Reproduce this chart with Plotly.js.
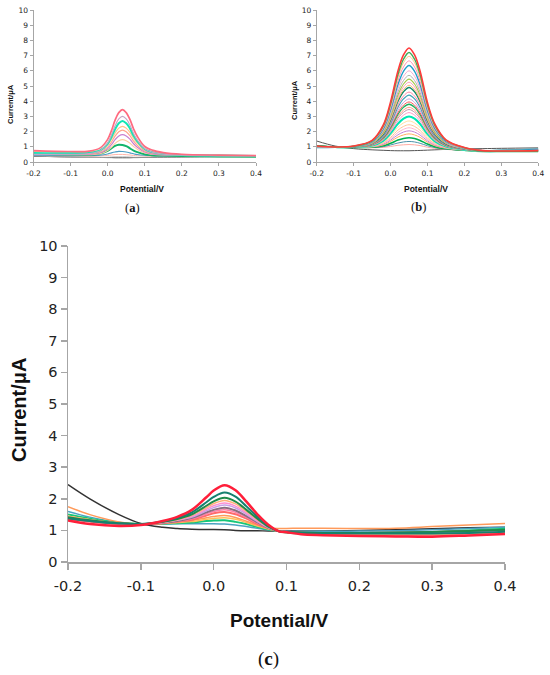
<!DOCTYPE html>
<html><head><meta charset="utf-8">
<script src="https://cdn.plot.ly/plotly-3.0.1.min.js"></script>
<style>html,body{margin:0;padding:0;background:#fff}#chart{width:550px;height:675px}</style>
</head><body><div id="chart"></div>
<script>
// ---------- tick labels ----------
const xTickVals = [-0.2, -0.1, 0.0, 0.1, 0.2, 0.3, 0.4];
const xTickText = ["-0.2", "-0.1", "0.0", "0.1", "0.2", "0.3", "0.4"];
const yTickVals = [0, 1, 2, 3, 4, 5, 6, 7, 8, 9, 10];

// ---------- panel (a) ----------
const xA = [-0.2, -0.1, -0.05, -0.02, 0, 0.01, 0.02, 0.03, 0.04, 0.05, 0.06, 0.07, 0.08, 0.1, 0.12, 0.15, 0.2, 0.3, 0.4];
const a1 = [.75, .69, .72, .93, 1.49, 2.05, 2.75, 3.25, 3.45, 3.25, 2.80, 2.17, 1.68, 1.02, .78, .62, .51, .45, .42];
const a2 = [.5, .51, .55, .75, 1.25, 1.75, 2.38, 2.83, 3.0, 2.83, 2.43, 1.87, 1.44, .86, .65, .52, .45, .42, .4];
const a3 = [.6, .58, .6, .77, 1.2, 1.63, 2.16, 2.55, 2.7, 2.55, 2.21, 1.72, 1.36, .84, .65, .53, .46, .42, .4];
const a4 = [.7, .65, .66, .78, 1.13, 1.48, 1.91, 2.23, 2.35, 2.23, 1.95, 1.55, 1.25, .82, .66, .55, .48, .43, .4];
const a5 = [.55, .53, .54, .66, .98, 1.3, 1.7, 1.99, 2.1, 1.99, 1.73, 1.37, 1.1, .72, .58, .5, .45, .42, .4];
const a6 = [.5, .5, .51, .61, .88, 1.14, 1.47, 1.71, 1.8, 1.71, 1.5, 1.2, .97, .66, .54, .47, .44, .41, .4];
const a7 = [.5, .48, .48, .55, .76, .96, 1.22, 1.4, 1.47, 1.4, 1.24, 1.01, .84, .59, .51, .46, .43, .41, .4];
const a8 = [.55, .5, .48, .55, .74, .9, 1.06, 1.14, 1.12, 1.04, .9, .75, .65, .51, .45, .42, .39, .37, .35];
const a9 = [.45, .42, .42, .45, .53, .6, .66, .7, .69, .66, .6, .54, .49, .44, .42, .4, .39, .38, .38];
const a10 = [.45, .4, .38, .4, .43, .46, .49, .5, .5, .48, .46, .43, .42, .4, .39, .38, .38, .38, .38];
const a11 = [.4, .32, .3, .3, .31, .32, .33, .33, .33, .33, .32, .31, .31, .31, .32, .33, .35, .37, .38];
const a12 = [.38, .33, .31, .3, .29, .29, .28, .28, .28, .28, .28, .29, .29, .3, .31, .32, .33, .35, .36];

// ---------- panel (b) ----------
const xB = [-0.2, -0.15, -0.1, -0.05, -0.02, 0, 0.02, 0.035, 0.05, 0.065, 0.08, 0.1, 0.12, 0.15, 0.2, 0.25, 0.3, 0.4];
const b1 = [1.05, .99, 1.05, 1.42, 2.42, 3.95, 5.99, 7.04, 7.5, 7.04, 5.97, 3.90, 2.49, 1.46, .95, .75, .72, .75];
const b2 = [1.08, 1.0, 1.04, 1.39, 2.35, 3.81, 5.76, 6.76, 7.2, 6.76, 5.74, 3.76, 2.41, 1.43, .94, .72, .7, .7];
const b3 = [1.0, .99, 1.04, 1.38, 2.30, 3.69, 5.56, 6.53, 6.95, 6.53, 5.54, 3.64, 2.35, 1.41, .93, .75, .72, .76];
const b4 = [1.0, .99, 1.04, 1.35, 2.23, 3.55, 5.33, 6.25, 6.65, 6.25, 5.31, 3.50, 2.27, 1.38, .92, .75, .72, .78];
const b5 = [.95, .97, 1.03, 1.33, 2.16, 3.42, 5.10, 5.97, 6.35, 5.97, 5.08, 3.37, 2.20, 1.35, .91, .74, .74, .82];
const b6 = [1.0, .99, 1.03, 1.30, 2.08, 3.26, 4.83, 5.64, 6.0, 5.64, 4.81, 3.21, 2.11, 1.31, .90, .74, .72, .76];
const b7 = [1.02, .98, 1.02, 1.28, 2.01, 3.12, 4.60, 5.36, 5.7, 5.36, 4.58, 3.07, 2.04, 1.28, .89, .76, .76, .85];
const b8 = [1.0, .98, 1.02, 1.26, 1.95, 3.00, 4.41, 5.13, 5.45, 5.13, 4.39, 2.95, 1.97, 1.26, .89, .74, .72, .74];
const b9 = [.98, .98, 1.02, 1.25, 1.91, 2.91, 4.25, 4.94, 5.25, 4.94, 4.23, 2.86, 1.92, 1.24, .88, .73, .72, .76];
const b10 = [1.0, .98, 1.01, 1.23, 1.86, 2.82, 4.10, 4.76, 5.05, 4.76, 4.08, 2.77, 1.87, 1.22, .88, .73, .72, .78];
const b11 = [1.05, .99, 1.01, 1.22, 1.82, 2.75, 3.99, 4.62, 4.9, 4.62, 3.97, 2.70, 1.84, 1.20, .87, .72, .7, .72];
const b12 = [1.0, .98, 1.01, 1.20, 1.76, 2.61, 3.75, 4.34, 4.6, 4.34, 3.73, 2.56, 1.76, 1.17, .86, .73, .72, .76];
const b13 = [.96, .97, 1.0, 1.18, 1.71, 2.52, 3.60, 4.15, 4.4, 4.15, 3.58, 2.47, 1.71, 1.15, .86, .75, .78, .85];
const b14 = [1.0, .98, 1.0, 1.17, 1.65, 2.40, 3.41, 3.92, 4.15, 3.92, 3.39, 2.35, 1.65, 1.13, .85, .73, .72, .76];
const b15 = [1.02, .98, 1.0, 1.15, 1.61, 2.31, 3.25, 3.74, 3.95, 3.74, 3.23, 2.26, 1.60, 1.11, .84, .72, .72, .76];
const b16 = [1.05, .99, 1.0, 1.14, 1.57, 2.24, 3.14, 3.60, 3.8, 3.60, 3.12, 2.19, 1.56, 1.09, .84, .71, .7, .7];
const b17 = [1.0, .98, .99, 1.12, 1.53, 2.15, 2.98, 3.41, 3.6, 3.41, 2.96, 2.10, 1.51, 1.07, .83, .72, .72, .76];
const b18 = [.98, .97, .99, 1.11, 1.49, 2.08, 2.87, 3.27, 3.45, 3.27, 2.85, 2.03, 1.47, 1.06, .83, .73, .74, .8];
const b19 = [1.0, .98, .99, 1.10, 1.45, 1.99, 2.71, 3.08, 3.25, 3.08, 2.69, 1.94, 1.42, 1.04, .82, .72, .72, .76];
const b20 = [1.02, .98, .98, 1.08, 1.39, 1.88, 2.52, 2.85, 3.0, 2.85, 2.50, 1.83, 1.36, 1.01, .81, .72, .72, .76];
const b21 = [1.0, .98, .98, 1.06, 1.32, 1.74, 2.29, 2.57, 2.7, 2.57, 2.27, 1.69, 1.29, .98, .80, .71, .72, .76];
const b22 = [1.0, .97, .97, 1.04, 1.26, 1.62, 2.10, 2.34, 2.45, 2.34, 2.08, 1.57, 1.22, .96, .80, .71, .72, .76];
const b23 = [1.0, .97, .97, 1.02, 1.22, 1.53, 1.94, 2.15, 2.25, 2.15, 1.92, 1.48, 1.17, .94, .79, .71, .72, .76];
const b24 = [.98, .97, .97, 1.01, 1.17, 1.44, 1.79, 1.97, 2.05, 1.97, 1.77, 1.39, 1.12, .92, .79, .71, .72, .78];
const b25 = [1.0, .97, .96, .99, 1.12, 1.35, 1.64, 1.78, 1.85, 1.78, 1.62, 1.30, 1.07, .90, .78, .71, .72, .76];
const b26 = [1.03, .98, .96, .97, 1.07, 1.23, 1.44, 1.55, 1.6, 1.55, 1.42, 1.18, 1.01, .87, .77, .7, .7, .7];
const b27 = [.98, .97, .96, .96, 1.01, 1.12, 1.25, 1.32, 1.35, 1.32, 1.23, 1.07, .95, .85, .77, .74, .78, .85];
const b28 = [1.0, .97, .95, .94, .96, 1.02, 1.10, 1.13, 1.15, 1.13, 1.08, .97, .90, .83, .76, .70, .72, .76];
const b29 = [1.38, 1.05, .88, .8, .77, .75, .74, .74, .74, .75, .76, .78, .8, .83, .86, .88, .9, .93];

// ---------- panel (c) ----------
const xC = [-0.2, -0.17, -0.13, -0.1, -0.07, -0.05, -0.03, -0.01, 0, 0.015, 0.03, 0.045, 0.06, 0.075, 0.09, 0.1, 0.12, 0.15, 0.2, 0.25, 0.3, 0.35, 0.4];
const c1 = [1.31, 1.2, 1.14, 1.17, 1.3, 1.43, 1.65, 2.05, 2.26, 2.43, 2.27, 1.91, 1.51, 1.18, .97, .94, .88, .85, .82, .81, .8, .84, .89];
const c2 = [1.38, 1.3, 1.22, 1.2, 1.28, 1.39, 1.57, 1.89, 2.06, 2.2, 2.07, 1.76, 1.43, 1.15, .97, .95, .92, .9, .9, .9, .9, .92, .96];
const c3 = [1.42, 1.32, 1.23, 1.2, 1.27, 1.36, 1.51, 1.78, 1.92, 2.03, 1.91, 1.65, 1.37, 1.12, .97, .95, .93, .92, .92, .93, .95, .98, 1.02];
const c4 = [1.45, 1.34, 1.23, 1.2, 1.26, 1.34, 1.48, 1.72, 1.85, 1.95, 1.84, 1.6, 1.34, 1.11, .97, .95, .9, .87, .86, .86, .87, .9, .95];
const c5 = [1.4, 1.31, 1.22, 1.2, 1.26, 1.33, 1.45, 1.67, 1.78, 1.87, 1.77, 1.55, 1.31, 1.1, .97, .95, .9, .88, .88, .88, .89, .9, .93];
const c6 = [1.4, 1.31, 1.22, 1.2, 1.25, 1.32, 1.42, 1.62, 1.72, 1.8, 1.71, 1.51, 1.28, 1.09, .97, .95, .92, .9, .9, .9, .91, .93, .96];
const c7 = [1.38, 1.3, 1.22, 1.2, 1.25, 1.3, 1.4, 1.57, 1.65, 1.72, 1.63, 1.45, 1.26, 1.08, .97, .96, .93, .92, .92, .93, .95, .98, 1.0];
const c8 = [1.42, 1.32, 1.23, 1.2, 1.24, 1.29, 1.37, 1.52, 1.6, 1.65, 1.57, 1.41, 1.23, 1.08, .97, .95, .9, .87, .86, .86, .87, .9, .95];
const c9 = [1.35, 1.28, 1.21, 1.2, 1.23, 1.28, 1.34, 1.47, 1.54, 1.58, 1.51, 1.37, 1.2, 1.07, .97, .95, .9, .87, .85, .85, .86, .9, .95];
const c10 = [1.75, 1.5, 1.27, 1.2, 1.23, 1.26, 1.31, 1.4, 1.44, 1.47, 1.41, 1.29, 1.17, 1.08, 1.06, 1.06, 1.07, 1.07, 1.06, 1.07, 1.12, 1.17, 1.22];
const c11 = [1.45, 1.34, 1.23, 1.2, 1.22, 1.25, 1.28, 1.35, 1.38, 1.4, 1.35, 1.25, 1.14, 1.04, .97, .96, .93, .9, .88, .88, .9, .93, .97];
const c12 = [1.5, 1.37, 1.24, 1.2, 1.21, 1.23, 1.25, 1.3, 1.31, 1.32, 1.27, 1.2, 1.11, 1.03, .97, .93, .9, .88, .88, .9, .94, 1.0, 1.05];
const c13 = [1.6, 1.42, 1.25, 1.2, 1.2, 1.21, 1.21, 1.21, 1.21, 1.2, 1.17, 1.12, 1.07, 1.02, .98, .97, .97, .97, .98, .99, 1.02, 1.06, 1.1];
const c14 = [2.45, 2.0, 1.5, 1.22, 1.1, 1.06, 1.04, 1.03, 1.03, 1.02, 1.0, .99, .99, .98, .98, .98, .98, .98, 1.0, 1.03, 1.05, 1.08, 1.1];

// ---------- styles (drawn bottom to top) ----------
const styleA = [
  [a12, '#3a3a3a', 1], [a11, '#a8a8a8', 1], [a10, '#ffb4a8', 1], [a9, '#4a9cc4', 1.1],
  [a8, '#12b56a', 2], [a7, '#ffcaa0', 1.1], [a6, '#c97fd0', 1.2], [a5, '#ffa38a', 1.1],
  [a4, '#ffc48a', 1.2], [a3, '#12e6b4', 2], [a2, '#c3a6c6', 1.1], [a1, '#ff6b80', 1.7]
];
const styleB = [
  [b29, '#555555', 1], [b28, '#ffaca4', 1], [b27, '#4a92a8', 1], [b26, '#00b050', 1.6],
  [b25, '#ffb060', 1], [b24, '#c484d4', 1], [b23, '#ffb4cc', 1], [b22, '#ffc494', 1],
  [b21, '#ffe0a0', 1], [b20, '#00e6b4', 2], [b19, '#ff98c8', 1], [b18, '#c090a6', 1],
  [b17, '#ffa07e', 1], [b16, '#22b062', 1.3], [b15, '#ff5656', 1], [b14, '#c8a2dc', 1],
  [b13, '#3ea4b8', 1.2], [b12, '#ff86a4', 1], [b11, '#128a6c', 1.4], [b10, '#ffb46e', 1],
  [b9, '#ff9fb8', 1], [b8, '#a3c844', 1.1], [b7, '#b3b3b3', 1], [b6, '#f5a8d0', 1],
  [b5, '#1f9fc8', 1.4], [b4, '#ff8fb0', 1], [b3, '#ffc27a', 1], [b2, '#3cae5a', 1.4],
  [b1, '#ff3b3b', 1.6]
];
const styleC = [
  [c14, '#333333', 1.5], [c13, '#4aa3c2', 1.5], [c12, '#17c77a', 2], [c11, '#ffc05a', 1.5],
  [c10, '#ff9a5a', 1.5], [c9, '#ff6a6a', 2], [c8, '#ff7fa8', 1.5], [c7, '#8c6d80', 2],
  [c6, '#c9a0e8', 1.5], [c5, '#ff8fd0', 1.5], [c4, '#ffb07a', 1.5], [c3, '#1f8a4a', 2],
  [c2, '#168070', 2], [c1, '#ff1f3a', 2.5]
];

const traces = [];
function add(x, list, xa, ya) {
  list.forEach(([y, color, w]) => traces.push({
    x: x, y: y, type: 'scatter', mode: 'lines', xaxis: xa, yaxis: ya,
    line: {color: color, width: w, shape: 'spline', smoothing: 1},
    hoverinfo: 'skip'
  }));
}
add(xA, styleA, 'x', 'y');
add(xB, styleB, 'x2', 'y2');
add(xC, styleC, 'x3', 'y3');

const W = 550, H = 675;
const px = v => v / W, py = v => 1 - v / H;
const sans = 'Liberation Sans, Arial, sans-serif';
const tickSans = 'DejaVu Sans, Liberation Sans, sans-serif';
const serif = 'Liberation Serif, Times New Roman, serif';

function xAxis(dom, anchor, fs, tl, lw, so) {
  return {domain: dom, anchor: anchor, range: [-0.2, 0.4], tickvals: xTickVals, ticktext: xTickText,
    showline: true, linecolor: '#a6a6a6', linewidth: lw, ticks: 'outside', ticklen: tl, tickcolor: '#a6a6a6',
    tickwidth: lw, showgrid: false, zeroline: false, ticklabelstandoff: so,
    tickfont: {family: tickSans, size: fs, color: '#222'}, fixedrange: true};
}
function yAxis(dom, anchor, fs, tl, lw, so) {
  return {domain: dom, anchor: anchor, range: [0, 10], tickvals: yTickVals,
    showline: true, linecolor: '#a6a6a6', linewidth: lw, ticks: 'outside', ticklen: tl, tickcolor: '#a6a6a6',
    tickwidth: lw, showgrid: false, zeroline: false, ticklabelstandoff: so,
    tickfont: {family: tickSans, size: fs, color: '#222'}, fixedrange: true};
}

function ann(text, x, y, size, family, angle) {
  return {text: text, x: px(x), y: py(y), xref: 'paper', yref: 'paper', showarrow: false,
    xanchor: 'center', yanchor: 'middle', textangle: angle || 0,
    font: {family: family, size: size, color: '#111'}};
}

const layout = {
  width: W, height: H, margin: {l: 0, r: 0, t: 0, b: 0}, showlegend: false,
  paper_bgcolor: '#fff', plot_bgcolor: '#fff',
  xaxis: xAxis([px(33.5), px(256)], 'y', 7.5, 3, 1, 1),
  yaxis: yAxis([py(162), py(10)], 'x', 7.5, 3, 1, 0),
  xaxis2: xAxis([px(316.7), px(538.3)], 'y2', 7.5, 3, 1, 1),
  yaxis2: yAxis([py(162), py(10)], 'x2', 7.5, 3, 1, 0),
  xaxis3: xAxis([px(68), px(505)], 'y3', 14.5, 6, 1.5, 4),
  yaxis3: yAxis([py(562), py(246)], 'x3', 14.5, 6, 1.5, 0),
  annotations: [
    ann('<b>Current/μA</b>', 11, 104, 7.5, sans, -90),
    ann('<b>Potential/V</b>', 142, 189, 8.5, sans),
    ann('(<b>a</b>)', 132, 208, 12.5, serif),
    ann('<b>Current/μA</b>', 294, 100, 7.5, sans, -90),
    ann('<b>Potential/V</b>', 426, 189, 8.5, sans),
    ann('(<b>b</b>)', 418, 207, 12.5, serif),
    ann('<b>Current/μA</b>', 19, 410, 20, sans, -90),
    ann('<b>Potential/V</b>', 280, 620, 19, sans),
    ann('(<b>c</b>)', 268, 659, 19, serif)
  ]
};

Plotly.newPlot('chart', traces, layout, {displayModeBar: false, staticPlot: true});
</script></body></html>
